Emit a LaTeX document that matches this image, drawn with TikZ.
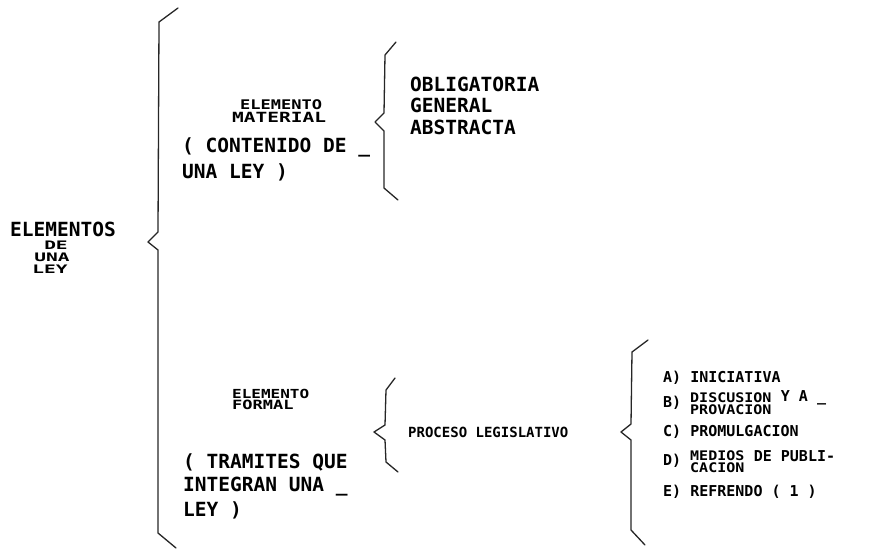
\documentclass[tikz,border=0pt]{standalone}
\usepackage{fontspec}
\usepackage{graphicx}
\setmonofont{DejaVu Sans Mono}
\newcommand\sqz[2][0.65]{\scalebox{1}[#1]{#2}}
\begin{document}
\begin{tikzpicture}[x=1pt,y=-1pt,
  big/.style={anchor=west,inner sep=0pt,font=\ttfamily\bfseries\fontsize{19.5}{20}\selectfont},
  mid/.style={anchor=west,inner sep=0pt,font=\ttfamily\bfseries\fontsize{15}{16}\selectfont},
  sml/.style={anchor=west,inner sep=0pt,font=\ttfamily\bfseries\fontsize{14}{15}\selectfont},
  capsonly/.style={text depth=0pt,text height=#1},
  brace/.style={line width=1.3pt,line join=round,line cap=round,draw=black!85}]
\useasboundingbox (0,0) rectangle (880,550);

% root label
\node[big,capsonly=14.2pt] (elementos) at (10,229) {ELEMENTOS};
\node[big,anchor=center,capsonly=8.5pt] (de) at (56,245) {\sqz[0.6]{DE}};
\node[big,anchor=center,capsonly=8.5pt] (una) at (52,257) {\sqz[0.6]{UNA}};
\node[big,anchor=center,capsonly=8.5pt] (ley) at (50,269) {\sqz[0.6]{LEY}};

% big brace
\draw[brace] (178,8) -- (159,22) -- (158,232) -- (148,242) -- (158,250) -- (158,533) -- (176,548);

% elemento material
\node[big,font=\ttfamily\bfseries\fontsize{17}{17}\selectfont] (elmat) at (240,105) {\sqz[0.78]{ELEMENTO}};
\node[big] (mat) at (232,117) {\sqz[0.72]{MATERIAL}};
\node[big] (cont1) at (182,147) {( CONTENIDO DE \_};
\node[big] (cont2) at (182,172) {UNA LEY )};

\draw[brace] (396,42) -- (385,55) -- (384,113) -- (375,122) -- (384,131) -- (384,188) -- (398,200);

\node[big] (obl) at (410,84) {OBLIGATORIA};
\node[big] (gen) at (410,105) {GENERAL};
\node[big] (abs) at (410,127) {ABSTRACTA};

% elemento formal
\node[mid,font=\ttfamily\bfseries\fontsize{16}{16}\selectfont] (elfor) at (232,394) {\sqz[0.78]{ELEMENTO}};
\node[mid,font=\ttfamily\bfseries\fontsize{17}{17}\selectfont] (for) at (232,405) {\sqz[0.75]{FORMAL}};
\node[big] (tram1) at (183,462) {( TRAMITES QUE};
\node[big] (tram2) at (183,487) {INTEGRAN UNA \_};
\node[big] (tram3) at (183,510) {LEY )};

\draw[brace] (395,378) -- (386,390) -- (385,425) -- (374,432) -- (385,440) -- (386,462) -- (398,472);

\node[sml] (proc) at (408,432) {PROCESO LEGISLATIVO};

\draw[brace] (648,340) -- (632,352) -- (631,424) -- (621,432) -- (631,440) -- (631,530) -- (645,545);

% items
\node[mid] (a) at (663,378) {A) INICIATIVA};
\node[mid] (b) at (663,403) {B)};
\node[mid] (b1) at (690,398) {\sqz[0.88]{DISCUSION}};
\node[mid] (b2) at (b1.east) {\ Y A \_};
\node[mid] (b3) at (690,410) {\sqz[0.88]{PROVACION}};
\node[mid] (c) at (663,432) {C) PROMULGACION};
\node[mid] (d) at (663,461) {D)};
\node[mid] (d1) at (690,456) {\sqz[0.88]{MEDIOS}};
\node[mid] (d2) at (d1.east) {\ DE PUBLI-};
\node[mid] (d3) at (690,468) {\sqz[0.88]{CACION}};
\node[mid] (e) at (663,492) {E) REFRENDO ( 1 )};
\end{tikzpicture}
\end{document}
